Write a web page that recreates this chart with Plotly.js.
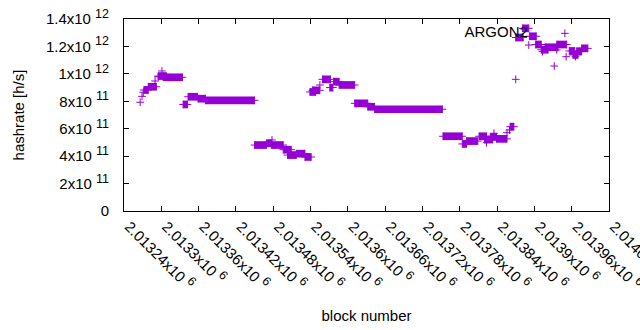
<!DOCTYPE html>
<html><head><meta charset="utf-8">
<script src="https://cdn.plot.ly/plotly-3.0.1.min.js"></script>
<style>html,body{margin:0;padding:0;background:#fff}</style>
</head><body><div id="chart" style="width:640px;height:330px"></div>
<script>
// plateaus: runs of consecutive blocks with (nearly) the same hashrate
const segStart = [2013272,2013279,2013295,2013303,2013335,2013343,2013359,2013371,2013450,2013469,2013477,2013496,2013503,2013517,2013531,2013539,2013543,2013559,2013571,2013577,2013586,2013611,2013632,2013643,2013753,2013784,2013791,2013811,2013820,2013829,2013839,2013861,2013870,2013881,2013892,2013902,2013911,2013917,2013936,2013956,2013962,2013968,2013976];
const segEnd   = [2013279,2013292,2013308,2013334,2013342,2013358,2013371,2013450,2013469,2013477,2013496,2013509,2013517,2013531,2013541,2013548,2013555,2013572,2013576,2013586,2013611,2013632,2013643,2013752,2013784,2013791,2013809,2013823,2013833,2013839,2013856,2013867,2013882,2013891,2013903,2013911,2013922,2013938,2013952,2013965,2013970,2013976,2013986];
const segValue = [8.82e11,9.06e11,9.84e11,9.75e11,7.77e11,8.33e11,8.19e11,8.07e11,4.81e11,4.94e11,4.81e11,4.47e11,4.08e11,4.18e11,3.94e11,8.68e11,8.80e11,9.60e11,9.00e11,9.43e11,9.19e11,7.85e11,7.60e11,7.42e11,5.45e11,4.89e11,5.10e11,5.45e11,5.21e11,5.40e11,5.26e11,6.15e11,1.265e12,1.332e12,1.274e12,1.214e12,1.176e12,1.194e12,1.214e12,1.167e12,1.138e12,1.165e12,1.186e12];
// isolated blocks
const ptBlock = [2013266,2013269,2013271,2013290,2013295,2013301,2013478,2013555,2013823,2013835,2013856,2013860,2013870,2013891,2013913,2013932,2013936,2013951,2013966];
const ptValue = [7.93e11,8.36e11,8.66e11,9.48e11,9.79e11,1.021e12,5.18e11,9.19e11,4.98e11,5.67e11,5.71e11,5.91e11,9.60e11,1.21e12,1.162e12,1.057e12,1.174e12,1.125e12,1.125e12];

const xTickVals = [2013240,2013300,2013360,2013420,2013480,2013540,2013600,2013660,2013720,2013780,2013840,2013900,2013960,2014020];
const xTickMant = ['2.01324','2.0133','2.01336','2.01342','2.01348','2.01354','2.0136','2.01366','2.01372','2.01378','2.01384','2.0139','2.01396','2.01402'];
const xTickExp = ['6','6','6','6','6','6','6','6','6','6','6','6','6','6'];
const yTickVals = [0,2e11,4e11,6e11,8e11,1e12,1.2e12,1.4e12];
const yTickMant = ['0','2','4','6','8','1','1.2','1.4'];
const yTickExp = ['','11','11','11','11','12','12','12'];
const seriesName = 'ARGON2';

function sci(m, e) {
  return e ? m + 'x10 <sup><span style="font-size:12.5px">' + e + '</span></sup>' : m;
}
const xTickText = xTickMant.map((m, i) => sci(m, xTickExp[i]));
const yTickText = yTickMant.map((m, i) => sci(m, yTickExp[i]));

const color = '#9400D3';
const lx = [], ly = [], mx = [], my = [];
for (let i = 0; i < segStart.length; i++) {
  lx.push(segStart[i], segEnd[i], null);
  ly.push(segValue[i], segValue[i], null);
  mx.push(segStart[i], segEnd[i]);
  my.push(segValue[i], segValue[i]);
}
for (let i = 0; i < ptBlock.length; i++) { mx.push(ptBlock[i]); my.push(ptValue[i]); }

const font = {family: 'Liberation Sans, Arial, sans-serif', size: 15, color: '#000'};
const traces = [
  {x: lx, y: ly, type: 'scatter', mode: 'lines', line: {color: color, width: 7.7}, showlegend: false, hoverinfo: 'skip', connectgaps: false},
  {x: mx, y: my, type: 'scatter', mode: 'markers', name: ' ', showlegend: true,
   marker: {symbol: 'cross-thin', size: 5.5, color: color, line: {color: color, width: 1}}}
];
const axisCommon = {showline: true, linecolor: '#000', linewidth: 1, mirror: 'ticks', ticks: 'inside', ticklen: 5, tickcolor: '#000', tickwidth: 1, showgrid: false, zeroline: false, tickfont: font, ticklabeloverflow: 'allow'};
const layout = {
  width: 640, height: 330,
  margin: {l: 124, r: 31, t: 19, b: 119},
  paper_bgcolor: '#fff', plot_bgcolor: '#fff',
  font: font,
  xaxis: Object.assign({}, axisCommon, {range: [2013240, 2014020], tickmode: 'array', tickvals: xTickVals, ticktext: xTickText, tickangle: 45, ticklabelstandoff: 0, ticklabelshift: 5, title: {text: 'block number', font: font, standoff: 18}}),
  yaxis: Object.assign({}, axisCommon, {range: [0, 1.4e12], tickmode: 'array', tickvals: yTickVals, ticktext: yTickText, ticklabelstandoff: 11, title: {text: 'hashrate [h/s]', font: font, standoff: 17}}),
  legend: {x: 0.698, xanchor: 'left', y: 1.01, yanchor: 'top', bgcolor: 'rgba(0,0,0,0)', borderwidth: 0, itemwidth: 48, font: font,
           title: {text: seriesName, side: 'left', font: font}},
  showlegend: true
};
Plotly.newPlot('chart', traces, layout, {staticPlot: true, displayModeBar: false});
</script>
</body></html>
